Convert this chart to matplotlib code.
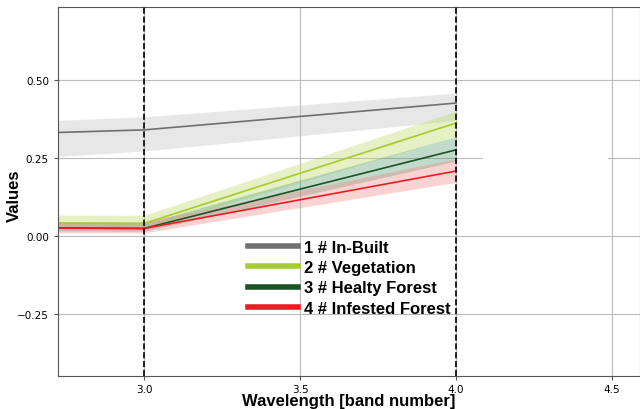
import numpy as np
import matplotlib
matplotlib.use("Agg")
import matplotlib.pyplot as plt

# band numbers and class statistics (mean, lower, upper)
bands = [2, 3, 4]
names = ["1 # In-Built", "2 # Vegetation", "3 # Healty Forest", "4 # Infested Forest"]
colors = ["#707070", "#a4cc2c", "#1c5226", "#ec1c24"]
band_colors = ["#bdbdbd", "#b8d65a", "#4f9a6a", "#f08080"]

inbuilt_mean = [0.310, 0.340, 0.426]
inbuilt_low = [0.210, 0.272, 0.370]
inbuilt_high = [0.340, 0.382, 0.458]

veg_mean = [0.045, 0.040, 0.362]
veg_low = [0.030, 0.025, 0.318]
veg_high = [0.068, 0.066, 0.400]

healthy_mean = [0.030, 0.024, 0.276]
healthy_low = [0.020, 0.015, 0.240]
healthy_high = [0.045, 0.040, 0.318]

infested_mean = [0.028, 0.024, 0.208]
infested_low = [0.012, 0.010, 0.172]
infested_high = [0.050, 0.045, 0.248]

means = [inbuilt_mean, veg_mean, healthy_mean, infested_mean]
lows = [inbuilt_low, veg_low, healthy_low, infested_low]
highs = [inbuilt_high, veg_high, healthy_high, infested_high]

vlines = [3, 4]
yticks = [-0.25, 0.0, 0.25, 0.5]
xticks = [3.0, 3.5, 4.0, 4.5]
gap_x = [4.09, 4.48]
gap_y = [0.25, 0.25]

fig = plt.figure(figsize=(6.4, 4.1), dpi=100)
ax = fig.add_axes([58 / 640, 33 / 410, 582 / 640, 369 / 410])

for i in range(len(names)):
    ax.fill_between(bands, lows[i], highs[i], color=band_colors[i], alpha=0.35, linewidth=0)
    ax.plot(bands, means[i], color=colors[i], linewidth=1.2, label=names[i])

for v in vlines:
    ax.axvline(v, color="black", linestyle="--", linewidth=1.2, zorder=5)

ax.plot(gap_x, gap_y, color="white", linewidth=2.5, zorder=3)

ax.set_xlim(2.724, 4.59)
ax.set_ylim(-0.449, 0.734)
ax.set_xticks(xticks)
ax.set_yticks(yticks)
ax.set_yticklabels(["\u22120.25", "0.00", "0.25", "0.50"])
ax.tick_params(labelsize=7.5, color="#555555", length=3)
ax.tick_params(axis="x", pad=3)
ax.grid(color="#bbbbbb", linewidth=0.8)
ax.set_axisbelow(True)
for s in ax.spines.values():
    s.set_color("#555555")

ax.set_xlabel("Wavelength [band number]", fontsize=12, fontweight="bold",
              family="Liberation Sans", labelpad=-1)
ax.set_ylabel("Values", fontsize=12, fontweight="bold", family="Liberation Sans")
ax.yaxis.set_label_coords(-0.062, 0.49)

leg = ax.legend(loc="upper left", bbox_to_anchor=(0.30, 0.41), frameon=False,
                prop={"family": "Liberation Sans", "weight": "bold", "size": 12},
                handlelength=3.0, handletextpad=0.4, labelspacing=0.32)
for h in leg.get_lines():
    h.set_linewidth(4)

fig.savefig("out.png", dpi=100)
